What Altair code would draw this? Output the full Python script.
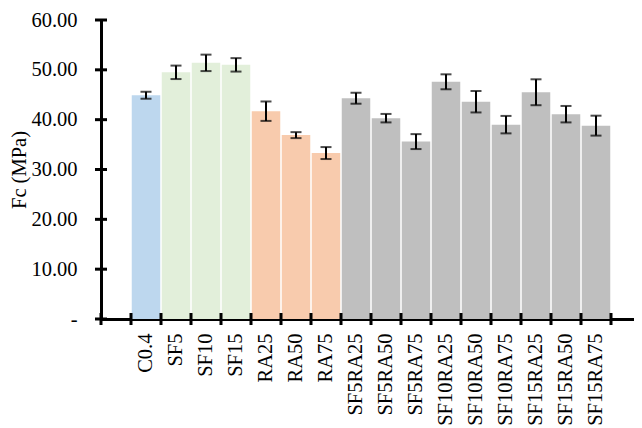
import altair as alt
import pandas as pd

# ---- data ----
categories = ["C0.4", "SF5", "SF10", "SF15", "RA25", "RA50", "RA75",
              "SF5RA25", "SF5RA50", "SF5RA75", "SF10RA25", "SF10RA50",
              "SF10RA75", "SF15RA25", "SF15RA50", "SF15RA75"]
fc_values = [44.9, 49.5, 51.4, 51.0, 41.7, 36.9, 33.3,
             44.3, 40.3, 35.6, 47.6, 43.6, 39.0, 45.5, 41.1, 38.8]
fc_errors = [0.7, 1.35, 1.65, 1.35, 1.95, 0.6, 1.2,
             1.1, 0.85, 1.5, 1.5, 2.15, 1.75, 2.6, 1.65, 2.0]
groups = ["C", "SF", "SF", "SF", "RA", "RA", "RA",
          "SFRA", "SFRA", "SFRA", "SFRA", "SFRA", "SFRA", "SFRA", "SFRA", "SFRA"]
group_names = ["C", "SF", "RA", "SFRA"]
group_colors = ["#BDD7EE", "#E2EFDA", "#F8CBAD", "#BFBFBF"]
y_ticks = [0, 10, 20, 30, 40, 50, 60]

# empty slot before the first bar and after the last bar
slots = ["_a"] + categories + ["_b"]

W, H = 532, 299
STEP_RANGE = 540          # 18 slots of 30 px; the last one runs past the page edge
FONT = "Liberation Serif"
FS = 20.5

df = pd.DataFrame({"cat": categories, "fc": fc_values, "err": fc_errors, "grp": groups})
df["lo"] = df["fc"] - df["err"]
df["hi"] = df["fc"] + df["err"]
slot_df = pd.DataFrame({"slot": slots})
tick_df = pd.DataFrame({"v": y_ticks})

x_scale = alt.Scale(domain=slots, paddingInner=0, paddingOuter=0, range=[0, STEP_RANGE])
y_scale = alt.Scale(domain=[0, 60], nice=False, zero=True)

x_axis = alt.Axis(
    title=None, ticks=False, domain=True, domainWidth=3, domainColor="black",
    domainCap="square",
    labelExpr="indexof(datum.value, '_') == 0 ? '' : datum.value",
    labelAngle=270, labelAlign="right", labelBaseline="middle", labelPadding=14,
    labelFont=FONT, labelFontSize=FS, labelColor="black", labelOverlap=False,
)
y_axis = alt.Axis(
    title="Fc (MPa)", ticks=False, grid=False, domain=True, domainWidth=3,
    domainColor="black", domainCap="square", values=y_ticks,
    labelExpr="datum.value == 0 ? '-\u00a0\u00a0' : format(datum.value, '.2f')",
    labelPadding=24, labelFont=FONT, labelFontSize=FS, labelColor="black",
    labelOverlap=False,
    titleFont=FONT, titleFontSize=FS, titleFontWeight="normal", titleColor="black",
    titleAngle=270, titleAlign="center", titleBaseline="alphabetic",
    titleX=-76, titleY=H / 2,
)

X = alt.X("cat:N", scale=x_scale, axis=x_axis, sort=slots)

bars = alt.Chart(df).mark_bar(width=alt.RelativeBandSize(0.95)).encode(
    x=X,
    y=alt.Y("fc:Q", scale=y_scale, axis=y_axis),
    color=alt.Color("grp:N", scale=alt.Scale(domain=group_names, range=group_colors), legend=None),
)

err = alt.Chart(df).mark_rule(color="black", strokeWidth=2).encode(
    x=X, y=alt.Y("lo:Q", scale=y_scale, axis=y_axis), y2="hi:Q"
)
cap_lo = alt.Chart(df).mark_tick(color="black", thickness=2, size=11).encode(
    x=X, y=alt.Y("lo:Q", scale=y_scale, axis=y_axis)
)
cap_hi = alt.Chart(df).mark_tick(color="black", thickness=2, size=11).encode(
    x=X, y=alt.Y("hi:Q", scale=y_scale, axis=y_axis)
)

ytick_rules = alt.Chart(tick_df).mark_rule(color="black", strokeWidth=3).encode(
    y=alt.Y("v:Q", scale=y_scale, axis=y_axis),
    x=alt.value(-6), x2=alt.value(6),
)
xtick_rules = alt.Chart(slot_df).mark_rule(color="black", strokeWidth=3).encode(
    x=alt.X("slot:N", scale=x_scale, axis=x_axis, bandPosition=0, sort=slots),
    y=alt.value(H - 6), y2=alt.value(H + 6),
)

chart = alt.layer(
    bars, err, cap_lo, cap_hi, ytick_rules, xtick_rules
).properties(
    width=W, height=H,
    autosize="none",
    padding={"left": 93, "top": 12, "right": 1, "bottom": 109},
    background="white",
).configure_view(stroke=None)

chart.save("out.html", embed_options={"renderer": "svg", "actions": False})
